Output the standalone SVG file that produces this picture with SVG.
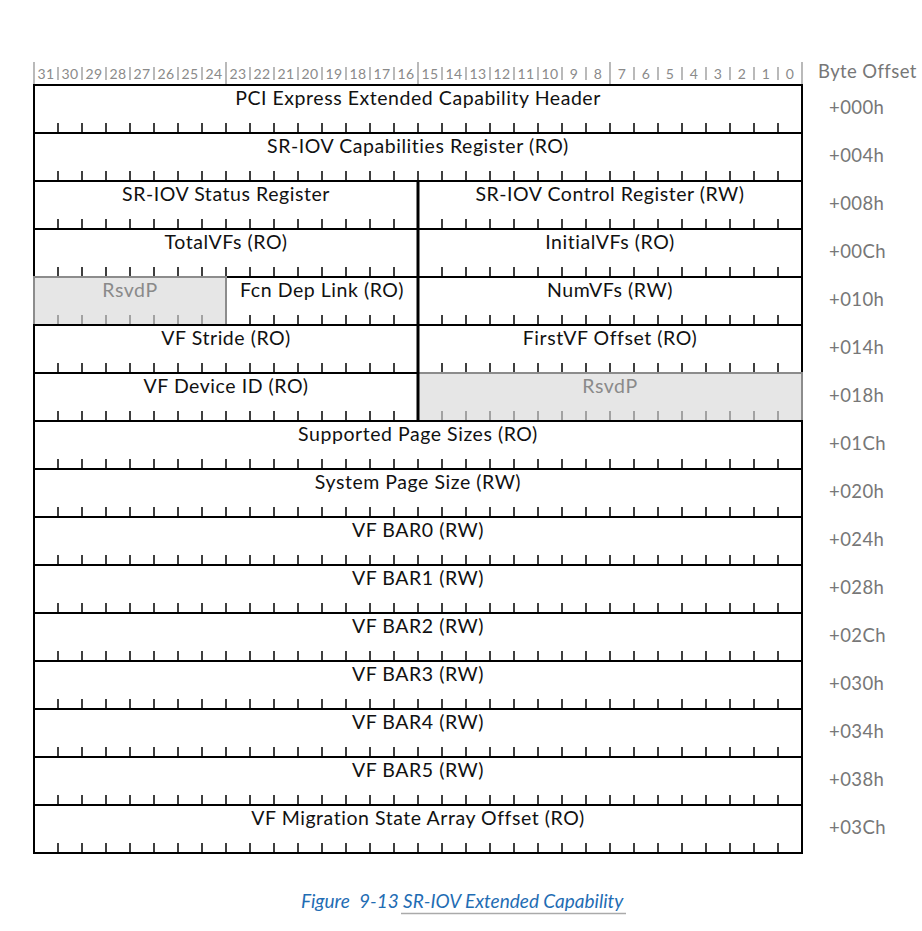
<svg xmlns="http://www.w3.org/2000/svg" width="922" height="931" viewBox="0 0 922 931">
<style>
.lbl{font-family:"Source Sans Pro",Lato,"Liberation Sans",sans-serif;font-size:19.5px;letter-spacing:0.55px;fill:#111;text-anchor:middle}
.rsv{fill:#8a8a8a}
.bit{font-family:"Source Sans Pro",Lato,"Liberation Sans",sans-serif;font-size:14px;letter-spacing:0.3px;fill:#8a8a8a;text-anchor:middle}
.off{font-family:"Source Sans Pro",Lato,"Liberation Sans",sans-serif;font-size:18.5px;letter-spacing:0.4px;fill:#777}
.fld{fill:#fff;stroke:#000;stroke-width:2}
.gfld{fill:#e6e6e6;stroke:#8c8c8c;stroke-width:2}
.tk{fill:none;stroke:#000;stroke-width:1.5}
.gtk{fill:none;stroke:#8c8c8c;stroke-width:1.5}
.hs{fill:none;stroke:#8c8c8c;stroke-width:1.2}
.sep{stroke:#000;stroke-width:3}
.cap{font-family:"Source Sans Pro",Lato,"Liberation Sans",sans-serif;font-size:19px;font-style:italic;fill:#1f6db4}
</style>
<defs>
<path id="ticks" d="M58-10v10M82-10v10M106-10v10M130-10v10M154-10v10M178-10v10M202-10v10M226-10v10M250-10v10M274-10v10M298-10v10M322-10v10M346-10v10M370-10v10M394-10v10M418-10v10M442-10v10M466-10v10M490-10v10M514-10v10M538-10v10M562-10v10M586-10v10M610-10v10M634-10v10M658-10v10M682-10v10M706-10v10M730-10v10M754-10v10M778-10v10"/>
</defs>
<g id="header">
<path class="hs" d="M58 67v13M82 67v13M106 67v13M130 67v13M154 67v13M178 67v13M202 67v13M250 67v13M274 67v13M298 67v13M322 67v13M346 67v13M370 67v13M394 67v13M442 67v13M466 67v13M490 67v13M514 67v13M538 67v13M562 67v13M586 67v13M634 67v13M658 67v13M682 67v13M706 67v13M730 67v13M754 67v13M778 67v13M34 62v23M226 62v23M418 62v23M610 62v23M802 62v23"/>
<text class="bit" y="79"><tspan x="46">31</tspan><tspan x="70">30</tspan><tspan x="94">29</tspan><tspan x="118">28</tspan><tspan x="142">27</tspan><tspan x="166">26</tspan><tspan x="190">25</tspan><tspan x="214">24</tspan><tspan x="238">23</tspan><tspan x="262">22</tspan><tspan x="286">21</tspan><tspan x="310">20</tspan><tspan x="334">19</tspan><tspan x="358">18</tspan><tspan x="382">17</tspan><tspan x="406">16</tspan><tspan x="430">15</tspan><tspan x="454">14</tspan><tspan x="478">13</tspan><tspan x="502">12</tspan><tspan x="526">11</tspan><tspan x="550">10</tspan><tspan x="574">9</tspan><tspan x="598">8</tspan><tspan x="622">7</tspan><tspan x="646">6</tspan><tspan x="670">5</tspan><tspan x="694">4</tspan><tspan x="718">3</tspan><tspan x="742">2</tspan><tspan x="766">1</tspan><tspan x="790">0</tspan></text>
<text class="off" x="818" y="78">Byte Offset</text>
</g>
<g id="row00">
<rect class="fld" x="34" y="85" width="768" height="48"/>
<use href="#ticks" class="tk" y="133"/>
<text class="lbl" x="418" y="105">PCI Express Extended Capability Header</text>
<text class="off" x="829" y="114">+000h</text>
</g>
<g id="row04">
<rect class="fld" x="34" y="133" width="768" height="48"/>
<use href="#ticks" class="tk" y="181"/>
<text class="lbl" x="418" y="153">SR-IOV Capabilities Register (RO)</text>
<text class="off" x="829" y="162">+004h</text>
</g>
<g id="row08">
<rect class="fld" x="34" y="181" width="768" height="48"/>
<use href="#ticks" class="tk" y="229"/>
<line class="sep" x1="418" y1="181" x2="418" y2="229"/>
<text class="lbl" x="226" y="201">SR-IOV Status Register</text>
<text class="lbl" x="610" y="201">SR-IOV Control Register (RW)</text>
<text class="off" x="829" y="210">+008h</text>
</g>
<g id="row0C">
<rect class="fld" x="34" y="229" width="768" height="48"/>
<use href="#ticks" class="tk" y="277"/>
<line class="sep" x1="418" y1="229" x2="418" y2="277"/>
<text class="lbl" x="226" y="249">TotalVFs (RO)</text>
<text class="lbl" x="610" y="249">InitialVFs (RO)</text>
<text class="off" x="829" y="258">+00Ch</text>
</g>
<g id="row10">
<rect class="fld" x="34" y="277" width="768" height="48"/>
<path class="tk" d="M250 315v10M274 315v10M298 315v10M322 315v10M346 315v10M370 315v10M394 315v10M442 315v10M466 315v10M490 315v10M514 315v10M538 315v10M562 315v10M586 315v10M610 315v10M634 315v10M658 315v10M682 315v10M706 315v10M730 315v10M754 315v10M778 315v10"/>
<line class="sep" x1="418" y1="277" x2="418" y2="325"/>
<rect class="gfld" x="34" y="277" width="192" height="48"/>
<path class="gtk" d="M58 315v10M82 315v10M106 315v10M130 315v10M154 315v10M178 315v10M202 315v10"/>
<line x1="33" y1="325" x2="226" y2="325" stroke="#000" stroke-width="2"/>
<text class="lbl rsv" x="130" y="297">RsvdP</text>
<text class="lbl" x="322" y="297">Fcn Dep Link (RO)</text>
<text class="lbl" x="610" y="297">NumVFs (RW)</text>
<text class="off" x="829" y="306">+010h</text>
</g>
<g id="row14">
<rect class="fld" x="34" y="325" width="768" height="48"/>
<use href="#ticks" class="tk" y="373"/>
<line class="sep" x1="418" y1="325" x2="418" y2="373"/>
<text class="lbl" x="226" y="345">VF Stride (RO)</text>
<text class="lbl" x="610" y="345">FirstVF Offset (RO)</text>
<text class="off" x="829" y="354">+014h</text>
</g>
<g id="row18">
<rect class="fld" x="34" y="373" width="768" height="48"/>
<rect class="gfld" x="418" y="373" width="384" height="48"/>
<path class="tk" d="M58 411v10M82 411v10M106 411v10M130 411v10M154 411v10M178 411v10M202 411v10M226 411v10M250 411v10M274 411v10M298 411v10M322 411v10M346 411v10M370 411v10M394 411v10"/>
<path class="gtk" d="M442 411v10M466 411v10M490 411v10M514 411v10M538 411v10M562 411v10M586 411v10M610 411v10M634 411v10M658 411v10M682 411v10M706 411v10M730 411v10M754 411v10M778 411v10"/>
<line class="sep" x1="418" y1="372" x2="418" y2="422"/>
<line x1="418" y1="421" x2="803" y2="421" stroke="#000" stroke-width="2"/>
<text class="lbl" x="226" y="393">VF Device ID (RO)</text>
<text class="lbl rsv" x="610" y="393">RsvdP</text>
<text class="off" x="829" y="402">+018h</text>
</g>
<g id="row1C">
<rect class="fld" x="34" y="421" width="768" height="48"/>
<use href="#ticks" class="tk" y="469"/>
<text class="lbl" x="418" y="441">Supported Page Sizes (RO)</text>
<text class="off" x="829" y="450">+01Ch</text>
</g>
<g id="row20">
<rect class="fld" x="34" y="469" width="768" height="48"/>
<use href="#ticks" class="tk" y="517"/>
<text class="lbl" x="418" y="489">System Page Size (RW)</text>
<text class="off" x="829" y="498">+020h</text>
</g>
<g id="row24">
<rect class="fld" x="34" y="517" width="768" height="48"/>
<use href="#ticks" class="tk" y="565"/>
<text class="lbl" x="418" y="537">VF BAR0 (RW)</text>
<text class="off" x="829" y="546">+024h</text>
</g>
<g id="row28">
<rect class="fld" x="34" y="565" width="768" height="48"/>
<use href="#ticks" class="tk" y="613"/>
<text class="lbl" x="418" y="585">VF BAR1 (RW)</text>
<text class="off" x="829" y="594">+028h</text>
</g>
<g id="row2C">
<rect class="fld" x="34" y="613" width="768" height="48"/>
<use href="#ticks" class="tk" y="661"/>
<text class="lbl" x="418" y="633">VF BAR2 (RW)</text>
<text class="off" x="829" y="642">+02Ch</text>
</g>
<g id="row30">
<rect class="fld" x="34" y="661" width="768" height="48"/>
<use href="#ticks" class="tk" y="709"/>
<text class="lbl" x="418" y="681">VF BAR3 (RW)</text>
<text class="off" x="829" y="690">+030h</text>
</g>
<g id="row34">
<rect class="fld" x="34" y="709" width="768" height="48"/>
<use href="#ticks" class="tk" y="757"/>
<text class="lbl" x="418" y="729">VF BAR4 (RW)</text>
<text class="off" x="829" y="738">+034h</text>
</g>
<g id="row38">
<rect class="fld" x="34" y="757" width="768" height="48"/>
<use href="#ticks" class="tk" y="805"/>
<text class="lbl" x="418" y="777">VF BAR5 (RW)</text>
<text class="off" x="829" y="786">+038h</text>
</g>
<g id="row3C">
<rect class="fld" x="34" y="805" width="768" height="48"/>
<use href="#ticks" class="tk" y="853"/>
<text class="lbl" x="418" y="825">VF Migration State Array Offset (RO)</text>
<text class="off" x="829" y="834">+03Ch</text>
</g>
<g id="caption">
<text class="cap" y="908"><tspan x="301">Figure</tspan><tspan x="359">9-13</tspan><tspan x="403">SR-IOV Extended Capability</tspan></text>
<line x1="401" y1="913.5" x2="626" y2="913.5" stroke="#aaa" stroke-width="1.5"/>
</g>
</svg>
